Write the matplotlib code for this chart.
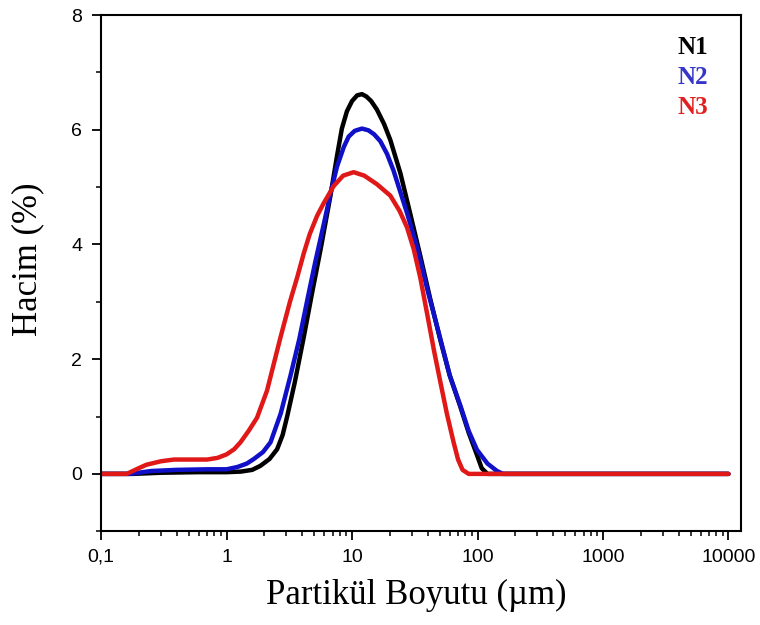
import matplotlib
matplotlib.use("Agg")
import matplotlib.pyplot as plt
from matplotlib.ticker import FixedLocator, NullFormatter, LogLocator

# ---- data ----
n1_x = [0.1, 0.18, 0.3, 0.6, 1.0, 1.3, 1.6, 1.86, 2.2, 2.53, 2.8, 3.04, 3.5, 4.12, 4.8, 5.6,
        6.73, 7.6, 8.3, 9.1, 10.0, 11.0, 12.0, 13.0, 14.2, 15.8, 18.0, 20.2, 24.3, 29, 35, 42,
        50.6, 60, 73, 85, 99, 108, 120, 10000]
n1_y = [0, 0, 0.02, 0.03, 0.03, 0.04, 0.07, 0.14, 0.26, 0.43, 0.68, 1.0, 1.6, 2.38, 3.15, 3.9,
        4.85, 5.55, 6.02, 6.32, 6.5, 6.6, 6.62, 6.58, 6.5, 6.35, 6.1, 5.82, 5.24, 4.55, 3.8, 3.05,
        2.33, 1.72, 1.17, 0.72, 0.33, 0.1, 0, 0]

n2_x = [0.1, 0.17, 0.25, 0.4, 0.7, 1.0, 1.22, 1.45, 1.65, 1.95, 2.24, 2.7, 3.23, 3.8, 4.39,
        5.1, 5.95, 6.73, 7.6, 8.6, 9.4, 10.5, 12.0, 13.5, 15.0, 16.8, 19.0, 21.4, 27.5, 33, 40,
        50.6, 60, 73, 85, 99, 120, 143, 160, 10000]
n2_y = [0, 0, 0.05, 0.07, 0.08, 0.08, 0.12, 0.18, 0.26, 0.38, 0.55, 1.05, 1.71, 2.35, 3.02,
        3.7, 4.35, 4.89, 5.36, 5.7, 5.88, 5.98, 6.02, 5.99, 5.92, 5.8, 5.58, 5.29, 4.54, 3.95, 3.2,
        2.35, 1.72, 1.19, 0.75, 0.42, 0.18, 0.05, 0, 0]

n3_x = [0.1, 0.16, 0.2, 0.23, 0.3, 0.38, 0.5, 0.7, 0.85, 1.0, 1.15, 1.29, 1.5, 1.75, 2.1,
        2.69, 3.2, 3.66, 4.13, 4.6, 5.27, 5.95, 7.15, 8.5, 10.3, 12.5, 15.8, 20.2, 24, 27.4, 31,
        35, 40, 45, 50.6, 57, 64.5, 70, 76, 85, 10000]
n3_y = [0, 0, 0.1, 0.16, 0.22, 0.25, 0.25, 0.25, 0.28, 0.34, 0.43, 0.55, 0.75, 0.98, 1.45,
        2.38, 3.0, 3.43, 3.85, 4.18, 4.5, 4.72, 5.02, 5.2, 5.26, 5.2, 5.05, 4.85, 4.58, 4.3, 3.92,
        3.42, 2.75, 2.15, 1.6, 1.05, 0.55, 0.25, 0.07, 0, 0]

series_names = ["N1", "N2", "N3"]
line_colors = ["#000000", "#1010c8", "#e01818"]
label_colors = ["#000000", "#3535c8", "#e02020"]

x_ticks = [0.1, 1, 10, 100, 1000, 10000]
x_ticklabels = ["0,1", "1", "10", "100", "1000", "10000"]
y_ticks = [0, 2, 4, 6, 8]
y_minor = [-1, 1, 3, 5, 7]

fig = plt.figure(figsize=(7.6, 6.25), dpi=100)
ax = fig.add_axes([0.133, 0.150, 0.842, 0.826])

for xs, ys, c in zip([n1_x, n2_x, n3_x], [n1_y, n2_y, n3_y], line_colors):
    ax.plot(xs, ys, color=c, lw=3.2, solid_capstyle="round", solid_joinstyle="round")

ax.set_xscale("log")
ax.set_xlim(0.1, 10 ** 4.1)
ax.set_ylim(-1, 8)

ax.xaxis.set_major_locator(FixedLocator(x_ticks))
ax.set_xticklabels(x_ticklabels)
ax.xaxis.set_minor_locator(LogLocator(base=10, subs=range(2, 10)))
ax.xaxis.set_minor_formatter(NullFormatter())
ax.yaxis.set_major_locator(FixedLocator(y_ticks))
ax.yaxis.set_minor_locator(FixedLocator(y_minor))

for s in ax.spines.values():
    s.set_linewidth(1.5)

ax.tick_params(which="major", direction="out", length=6.5, width=1.3,
               labelsize=14, top=False, right=False)
ax.tick_params(axis="y", which="major", pad=7)
ax.tick_params(axis="x", which="major", pad=6)
ax.tick_params(which="minor", direction="out", length=3.5, width=1.1, top=False, right=False)
for lab in ax.get_xticklabels() + ax.get_yticklabels():
    lab.set_fontfamily("Liberation Sans")

ax.set_xlabel("Partikül Boyutu (µm)", fontsize=25, family="Liberation Serif")
ax.set_ylabel("Hacim (%)", fontsize=25, family="Liberation Serif")
ax.xaxis.set_label_coords(0.493, -0.124)
ax.yaxis.set_label_coords(-0.114, 0.527)
ax.xaxis.label.set_va("center")
ax.yaxis.label.set_va("center")

legend_y = [0.938, 0.878, 0.820]
for name, c, yy in zip(series_names, label_colors, legend_y):
    ax.text(0.925, yy, name, transform=ax.transAxes, color=c,
            fontsize=18, fontweight="bold", family="Liberation Serif",
            ha="center", va="center")

fig.savefig("out.png", dpi=100)
